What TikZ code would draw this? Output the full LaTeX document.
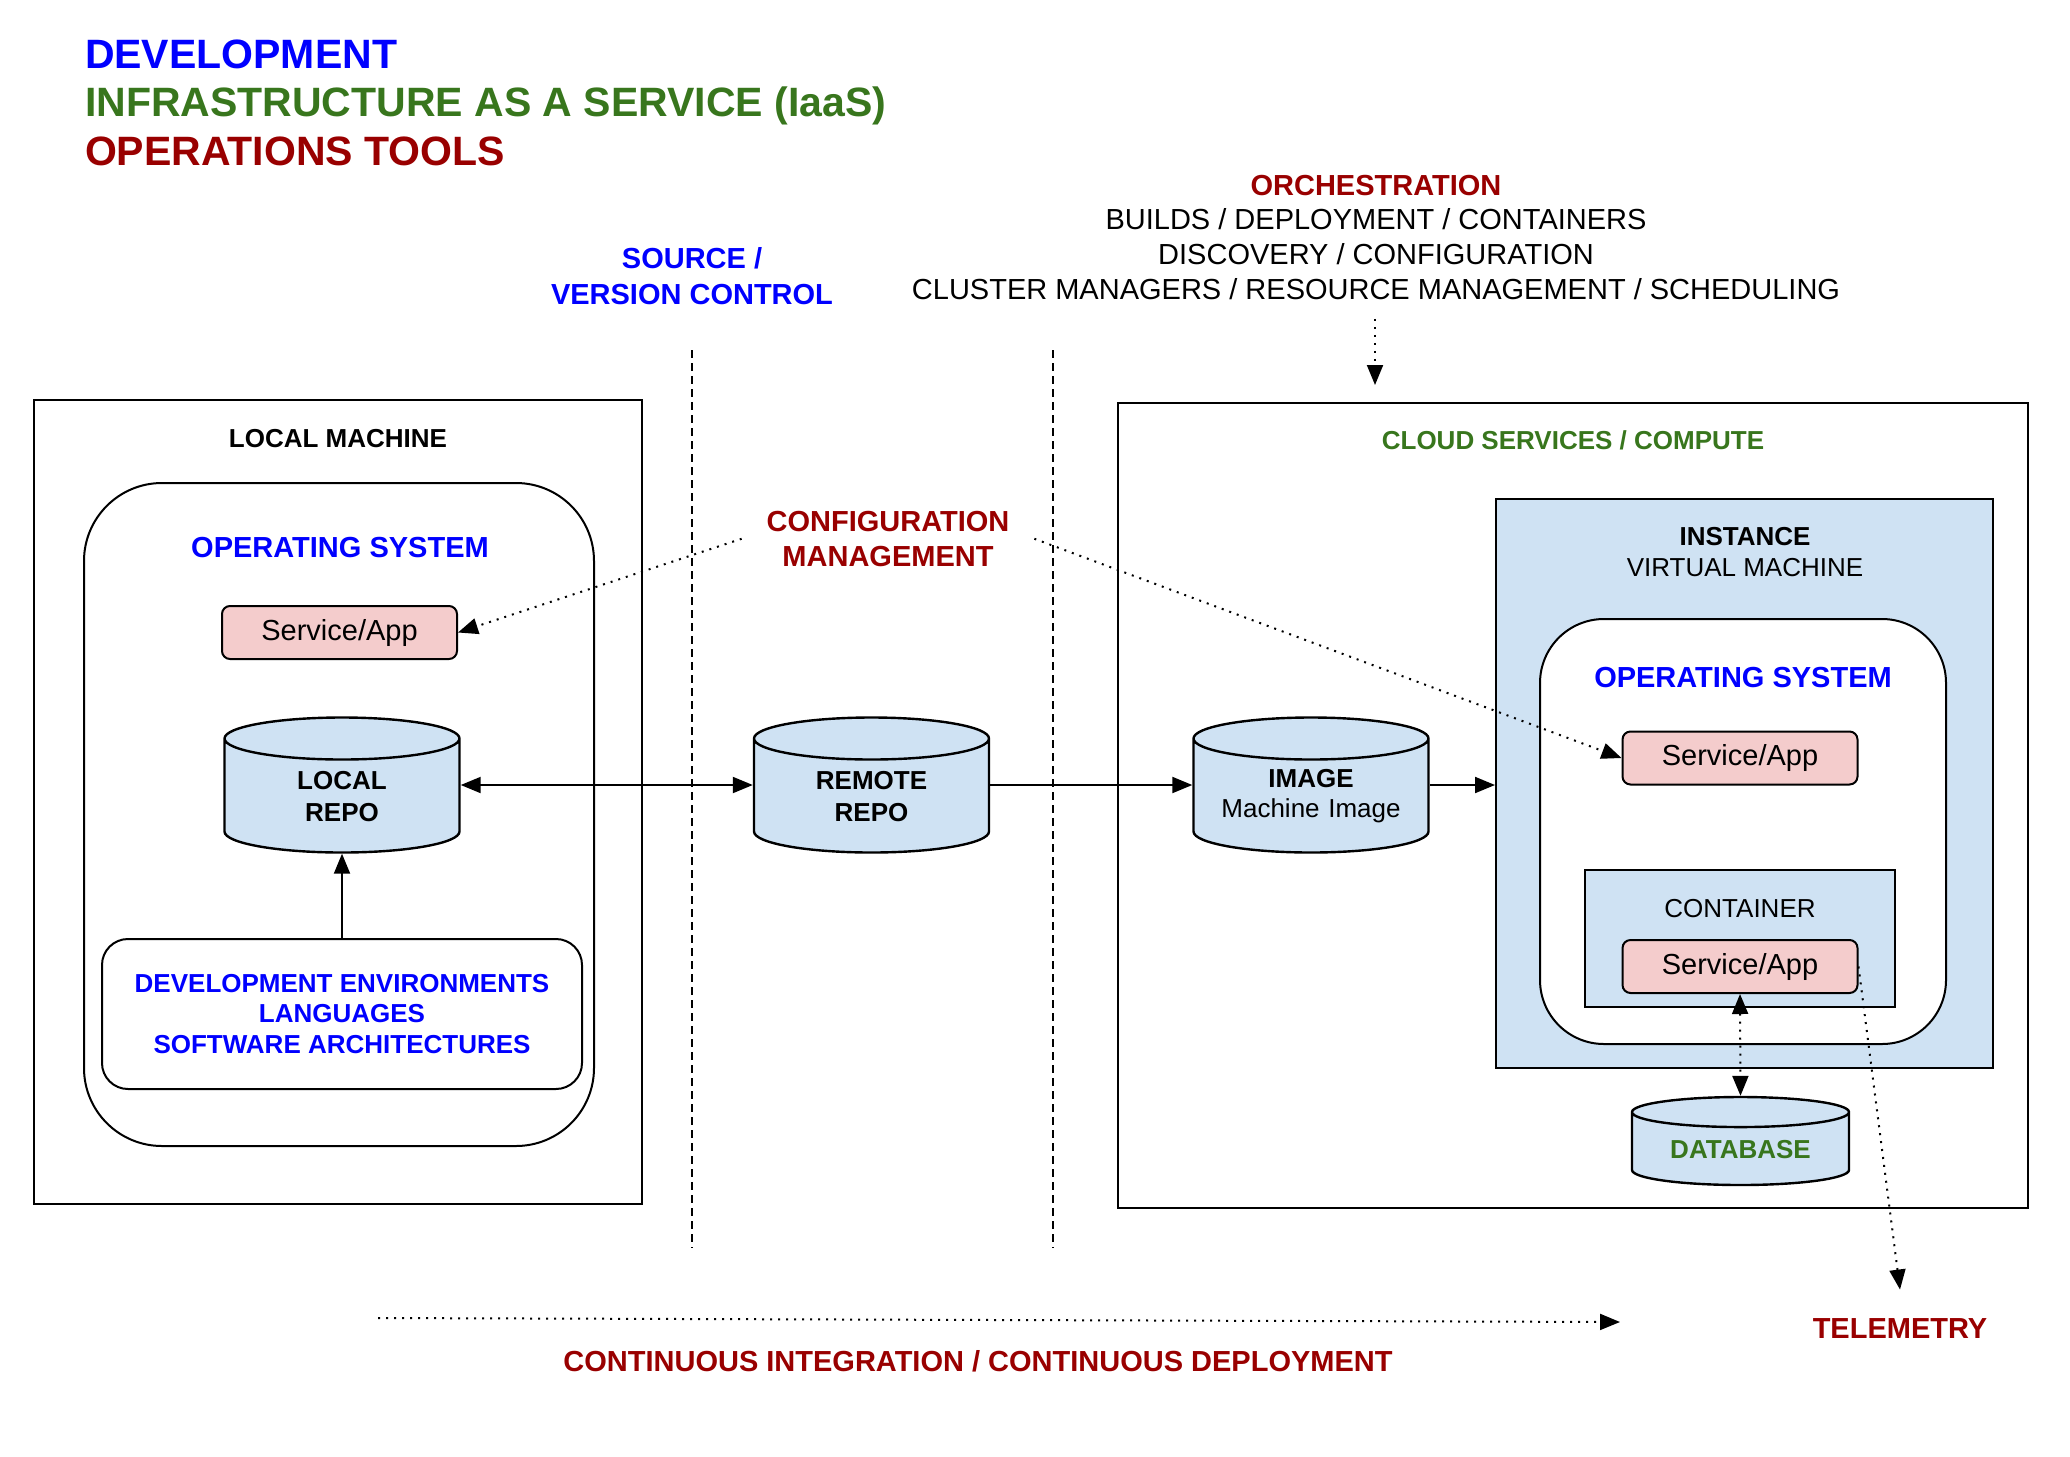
\documentclass[tikz,border=0pt]{standalone}
\usepackage{fontspec}
\setmainfont{Liberation Sans}
\usetikzlibrary{arrows.meta,shapes.geometric}

\definecolor{devblue}{RGB}{0,0,255}
\definecolor{iaasgreen}{RGB}{56,118,29}
\definecolor{opsred}{RGB}{153,0,0}
\definecolor{cloudblue}{RGB}{207,226,243}
\definecolor{apppink}{RGB}{244,204,204}

\begin{document}
\begin{tikzpicture}[x=0.5pt,y=-0.5pt,>={Triangle[length=10pt,width=8pt]},line width=1pt]
		\tikzstyle{frame}=[rectangle, draw=black, line width=1pt, inner sep=0pt]
		\tikzstyle{os box}=[frame, fill=white]
		\tikzstyle{app}=[frame, rounded corners=4pt, fill=apppink, minimum width=117.5pt, minimum height=26.5pt, font=\fontsize{14.5}{17}\selectfont]
		\tikzstyle{repo}=[cylinder, shape border rotate=90, aspect=0.21, draw=black, fill=cloudblue, line width=1.2pt, inner sep=0pt, text width=100pt, minimum width=117.5pt, minimum height=67.5pt, align=center, anchor=shape center, font=\fontsize{13}{16}\selectfont\bfseries]
		\tikzstyle{caption}=[inner sep=0pt, align=center, font=\fontsize{14.5}{17.5}\selectfont\bfseries]
		\tikzstyle{small caption}=[inner sep=0pt, align=center, font=\fontsize{13}{15.25}\selectfont\bfseries]
		\tikzstyle{dotted link}=[line width=1pt, dash pattern=on 1pt off 3pt]
		\tikzstyle{separator}=[line width=1pt, dash pattern=on 4pt off 2.5pt]

		\useasboundingbox (0,0) rectangle (2070,1456);

		% legend
		\node [inner sep=0pt, align=left, anchor=base west, font=\fontsize{20.5}{24.25}\selectfont\bfseries] (legend) at (84,165)
			{\textcolor{devblue}{DEVELOPMENT}\\\textcolor{iaasgreen}{INFRASTRUCTURE AS A SERVICE (IaaS)}\\\textcolor{opsred}{OPERATIONS TOOLS}};

		% stage separators
		\draw [separator] (692,350) -- (692,1248);
		\draw [separator] (1053,350) -- (1053,1248);
		\node [caption, text=devblue, font=\fontsize{14.5}{18}\selectfont\bfseries] (source) at (692,304) [anchor=base] {SOURCE /\\VERSION CONTROL};

		% local machine
		\node [frame, minimum width=304pt, minimum height=402pt] (local) at (338,802) {};
		\node [small caption] (localtitle) at (338,447) [anchor=base] {LOCAL MACHINE};
		\node [os box, rounded corners=39pt, minimum width=255pt, minimum height=331.5pt] (los) at (339,814.5) {};
		\node [caption, text=devblue] (lostitle) at (340,557) [anchor=base] {OPERATING SYSTEM};
		\node [app] (lsvc) at (339.5,632.5) {Service/App};
		\node [repo] (lrepo) at (342,785) {LOCAL\\REPO};
		\node [frame, rounded corners=13pt, minimum width=240pt, minimum height=75pt, align=center, text=devblue, font=\fontsize{13}{15.25}\selectfont\bfseries] (ldev) at (342,1014)
			{DEVELOPMENT ENVIRONMENTS\\LANGUAGES\\SOFTWARE ARCHITECTURES}
			edge [->] (lrepo);

		% remote repo
		\node [repo] (rrepo) at (871.5,785) {REMOTE\\REPO};
		\draw [<->] (lrepo.shape center -| lrepo.east) -- (rrepo.shape center -| rrepo.west);

		% cloud
		\node [frame, minimum width=455pt, minimum height=402.5pt] (cloud) at (1573,805.5) {};
		\node [small caption, text=iaasgreen] (cloudtitle) at (1573,449) [anchor=base] {CLOUD SERVICES / COMPUTE};
		\node [repo, font=\fontsize{13}{15}\selectfont] (img) at (1311,785) {\textbf{IMAGE}\\Machine Image};
		\draw [->] (rrepo.shape center -| rrepo.east) -- (img.shape center -| img.west);
		\node [frame, fill=cloudblue, minimum width=248.5pt, minimum height=284.5pt] (inst) at (1744.5,783.5) {};
		\node [inner sep=0pt, align=center, font=\fontsize{13}{15.25}\selectfont] (insttitle) at (1745,576) [anchor=base] {\textbf{INSTANCE}\\VIRTUAL MACHINE};
		\node [os box, rounded corners=32pt, minimum width=203pt, minimum height=212.5pt] (ros) at (1743,831.5) {};
		\node [caption, text=devblue] (rostitle) at (1743,687) [anchor=base] {OPERATING SYSTEM};
		\node [app] (rsvc) at (1740,758) {Service/App};
		\node [frame, fill=cloudblue, minimum width=155pt, minimum height=68.5pt] (cont) at (1740,938) {};
		\node [inner sep=0pt, font=\fontsize{13}{15.25}\selectfont] (conttitle) at (1740,917) [anchor=base] {CONTAINER};
		\node [app] (csvc) at (1740,966.5) {Service/App};
		\node [repo, aspect=0.167, text width=90pt, minimum width=108.5pt, minimum height=44pt, text=iaasgreen] (db) at (1740.5,1141) {DATABASE};
		\draw [->] (img.shape center -| img.east) -- (img.shape center -| inst.west);

		% operations tools
		\node [caption, text=opsred, font=\fontsize{14.5}{17.25}\selectfont\bfseries, inner xsep=12pt] (config) at (888,566) [anchor=base] {CONFIGURATION\\MANAGEMENT};
		\draw [dotted link, ->] (config.west) -- (lsvc.east);
		\draw [dotted link, ->] (config.east) -- (rsvc.west);

		\node [inner sep=0pt, inner ysep=9pt, align=center, font=\fontsize{14.5}{17.4}\selectfont] (orch) at (1376,299.5) [anchor=base]
			{\textcolor{opsred}{\bfseries ORCHESTRATION}\\BUILDS / DEPLOYMENT / CONTAINERS\\DISCOVERY / CONFIGURATION\\CLUSTER MANAGERS / RESOURCE MANAGEMENT / SCHEDULING};
		\coordinate (orchend) at (1375,385);
		\draw [dotted link, ->] (orchend |- orch.south) -- (orchend);

		\draw [dotted link, <->] (csvc.south) -- (db.north);

		\node [caption, text=opsred, inner ysep=14pt] (tele) at (1900,1338.5) [anchor=base] {TELEMETRY};
		\draw [dotted link, ->] (csvc.east) -- (tele.north);

		\coordinate (cistart) at (378,1318);
		\coordinate (ciend) at (1620,1322);
		\draw [dotted link, ->] (cistart) -- (ciend);
		\node [caption, text=opsred] (cicd) at (978,1371) [anchor=base] {CONTINUOUS INTEGRATION / CONTINUOUS DEPLOYMENT};
	\end{tikzpicture}
\end{document}
